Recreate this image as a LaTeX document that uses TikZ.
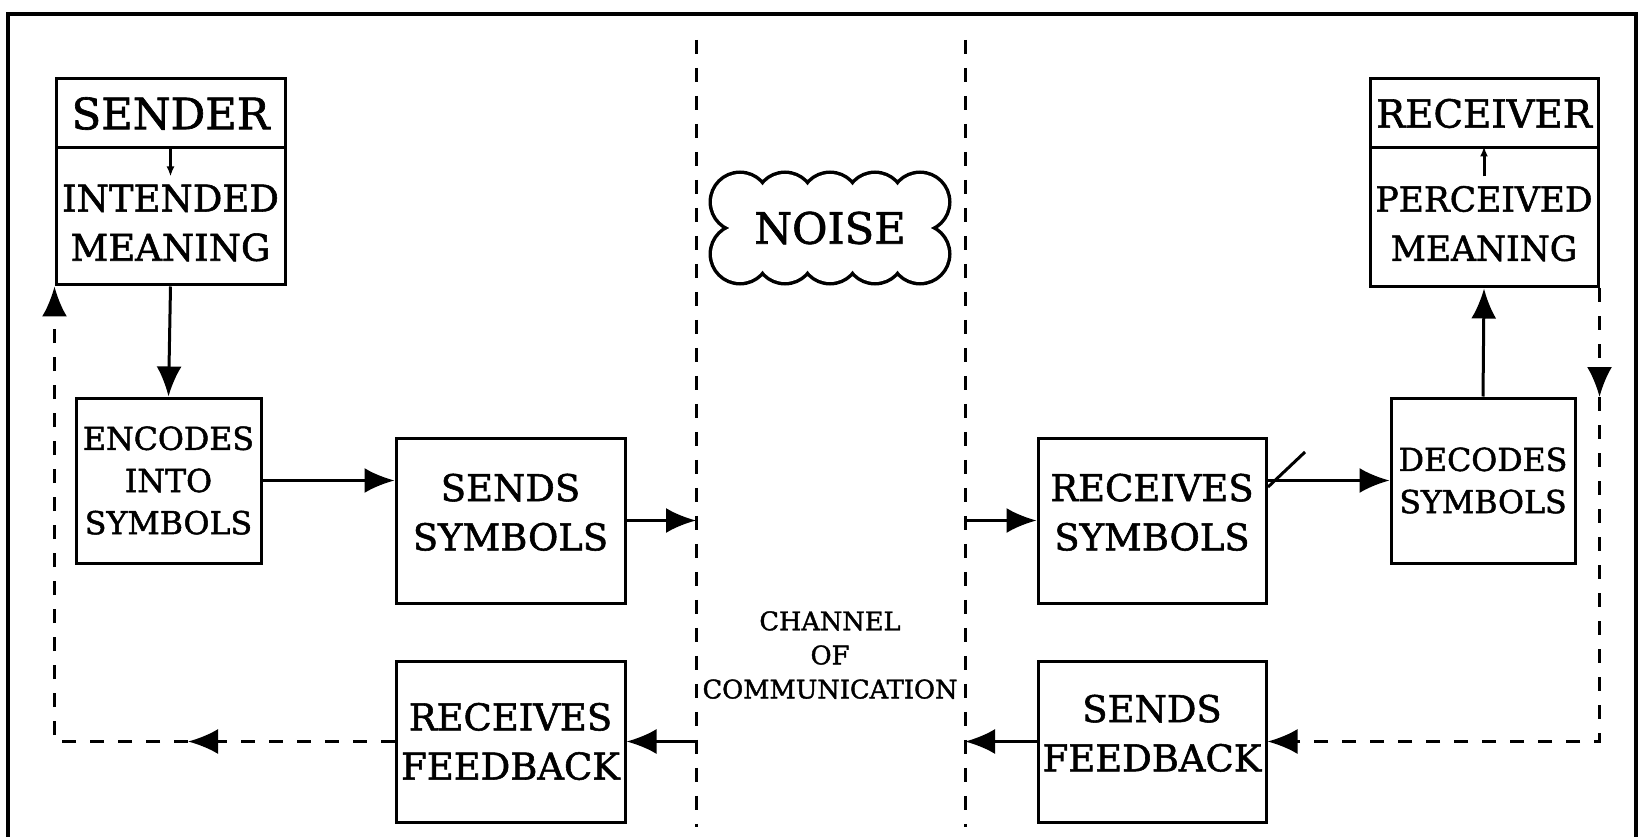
\documentclass[tikz,border=0pt]{standalone}
\usepackage{fontspec}
\setmainfont{DejaVu Serif}[FakeBold=1.5]
\usetikzlibrary{calc,arrows.meta}
\tikzset{
	blk/.style={draw, rectangle, inner sep=0pt, align=center},
	arr/.style={-{Latex[length=3mm,width=2.5mm]}},
	tinyarr/.style={-{Latex[length=1mm,width=0.8mm]}},
	fbline/.style={dash pattern=on 1.4mm off 1.4mm},
	bigtxt/.style={font=\fontsize{12.3}{14}\selectfont},
	midtxt/.style={font=\fontsize{10.5}{14}\selectfont},
	smalltxt/.style={font=\fontsize{9}{12}\selectfont},
	tinytxt/.style={font=\fontsize{7.3}{9.7}\selectfont},
}

\begin{document}
\begin{tikzpicture}[x=0.1mm, y=-0.1mm, line width=0.3mm]
		%%%%% START %%%%%
		\useasboundingbox (0,0) rectangle (1642,837);
		
		\draw[line width=0.35mm] (8,837) -- (8,14) -- (1636,14) -- (1636,837);
		
		% channel
		\coordinate (chltop) at (696,40);
		\coordinate (chlbot) at (696,827);
		\coordinate (chrtop) at (965,40);
		\coordinate (chrbot) at (965,827);
		\draw[fbline] (chltop) -- (chlbot);
		\draw[fbline] (chrtop) -- (chrbot);
		\node[tinytxt, align=center] (channel) at (830,655) {CHANNEL\\OF\\COMMUNICATION};
		
		% noise
		\foreach \cx in {740,785,830,875,920}
			\foreach \cy in {202,254}
				\draw[line width=0.7mm] (\cx,\cy) circle[radius=2.8mm];
		\foreach \cx in {740,785,830,875,920}
			\foreach \cy in {202,254}
				\fill[white] (\cx,\cy) circle[radius=2.8mm];
		\fill[white] (740,202) rectangle (920,254);
		\node[bigtxt] (noise) at (830,228) {NOISE};
		
		% sender side
		\node[blk, bigtxt, minimum width=22.9mm, minimum height=6.9mm] (sender) at (170.5,113.5) {SENDER};
		\node[blk, midtxt, text height=8.9mm, minimum width=22.9mm, minimum height=13.7mm] (intended) at (170.5,216.5) {INTENDED\\MEANING};
		\node[blk, smalltxt, minimum width=18.5mm, minimum height=16.5mm] (encodes) at (168.5,480.5) {ENCODES\\INTO\\SYMBOLS};
		\node[blk, midtxt, text depth=1.7mm, minimum width=22.9mm, minimum height=16.5mm] (sends) at (510.5,520.5) {SENDS\\SYMBOLS};
		\node[blk, midtxt, minimum width=22.9mm, minimum height=16.1mm] (recfb) at (510.5,741.5) {RECEIVES\\FEEDBACK};
		
		% receiver side
		\node[blk, font=\fontsize{11}{14}\selectfont, minimum width=22.8mm, minimum height=6.9mm] (receiver) at (1484,113.5) {RECEIVER};
		\node[blk, font=\fontsize{9.8}{14}\selectfont, text height=8.7mm, minimum width=22.8mm, minimum height=13.9mm] (perceived) at (1484,217.5) {PERCEIVED\\MEANING};
		\node[blk, smalltxt, minimum width=18.4mm, minimum height=16.5mm] (decodes) at (1483,480.5) {DECODES\\SYMBOLS};
		\node[blk, midtxt, text depth=1.7mm, minimum width=22.8mm, minimum height=16.5mm] (recsym) at (1152,520.5) {RECEIVES\\SYMBOLS};
		\node[blk, midtxt, text depth=1.7mm, minimum width=22.8mm, minimum height=16.1mm] (sendfb) at (1152,741.5) {SENDS\\FEEDBACK};
		
		\draw[tinyarr] (sender.south) -- ++(0,27);
		\draw[tinyarr] ($(perceived.north)+(0,30)$) -- (perceived.north);
		
		\draw[arr] (intended.south) -- (encodes.north);
		\draw[arr] (encodes.east) -- (encodes.east -| sends.west);
		\draw[arr] (sends.east) -- (sends.east -| chltop);
		\draw[arr] (recsym.west -| chrtop) -- (recsym.west);
		\draw[arr] (decodes.west -| recsym.east) -- (decodes.west);
		\draw (1268,487) -- (1305,452);
		\draw[arr] (decodes.north) -- (perceived.south);
		
		\draw[arr] (recfb.east -| chltop) -- (recfb.east);
		\draw[arr] (sendfb.west) -- (sendfb.west -| chrtop);
		
		% feedback loops
		\coordinate (lcorner) at (intended.south west |- recfb.west);
		\coordinate (lmid) at (188,0 |- recfb.west);
		\draw[fbline, arr] (recfb.west) -- (lmid);
		\draw[fbline, arr] (lmid) -- (lcorner) -- (intended.south west);
		
		\coordinate (rcorner) at (perceived.south east |- sendfb.east);
		\coordinate (rmid) at (perceived.south east |- 0,397);
		\draw[fbline, arr] (perceived.south east) -- (rmid);
		\draw[fbline, arr] (rmid) -- (rcorner) -- (sendfb.east);
		
		%%%%% END %%%%%
	\end{tikzpicture}
\end{document}
